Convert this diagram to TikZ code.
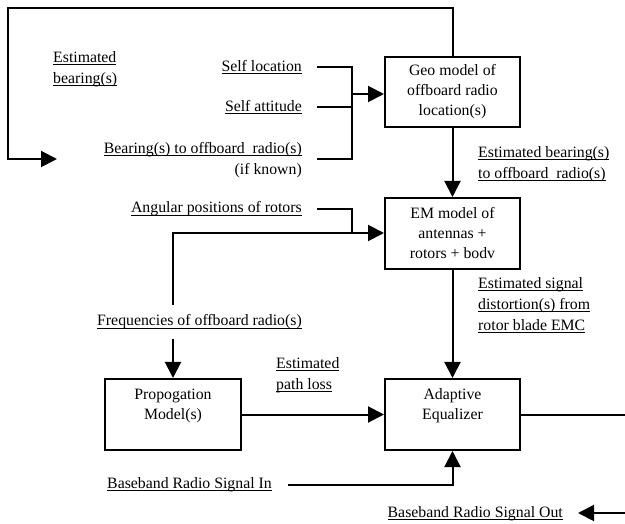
\documentclass[tikz,border=0pt]{standalone}
\usepackage{fontspec}
\setmainfont{Liberation Serif}
\usetikzlibrary{arrows.meta}
% underlined label text at a fixed depth below the baseline
\newcommand\ulin[1]{\setbox0\hbox{#1}\rlap{\rule[-2.6pt]{\wd0}{0.9pt}}\box0}
\begin{document}
\begin{tikzpicture}[x=1pt,y=1pt,
  font=\fontsize{15.8}{20}\selectfont,
  wire/.style={line width=2pt},
  flow/.style={wire,-{Triangle[length=16pt,width=16pt]}},
  block/.style={draw,line width=2pt,minimum width=135pt,inner sep=0pt,align=center},
  lbl/.style={inner sep=0pt,font=\fontsize{15.8}{21}\selectfont}]
\useasboundingbox (0,0) rectangle (625,-524);

% blocks
\node[block,minimum height=70pt] (geo) at (452.5,-92) {Geo model of\\offboard radio\\location(s)};
\node[block,minimum height=71pt] (em) at (452.5,-233.5) {EM model of\\antennas +\\rotors + bodv};
\node[block,minimum height=71pt,minimum width=136pt] (prop) at (173,-414.5) {Propogation\\Model(s)\\\mbox{}};
\node[block,minimum height=71pt] (eq) at (452.5,-414.5) {Adaptive\\Equalizer\\\mbox{}};

% labels
\node[lbl,anchor=west,align=left] (lfb) at (53,-69) {\ulin{Estimated}\\\ulin{bearing(s)}};
\node[lbl,anchor=east] (lsl) at (302,-67) {\ulin{Self location}};
\node[lbl,anchor=east] (lsa) at (302,-107) {\ulin{Self attitude}};
\node[lbl,anchor=east,align=right] (lbr) at (302,-160) {\ulin{Bearing(s) to offboard\ \ radio(s)}\\(if known)};
\node[lbl,anchor=west,align=left] (lgeo) at (478,-164) {\ulin{Estimated bearing(s)}\\\ulin{to offboard\ \ radio(s)}};
\node[lbl,anchor=east] (lang) at (302,-209) {\ulin{Angular positions of rotors}};
\node[lbl,anchor=east] (lfrq) at (302,-322) {\ulin{Frequencies of offboard radio(s)}};
\node[lbl,anchor=west,align=left] (lpl) at (276,-375) {\ulin{Estimated}\\\ulin{path loss}};
\node[lbl,anchor=west,align=left] (lem) at (478,-305) {\ulin{Estimated signal}\\\ulin{distortion(s) from}\\\ulin{rotor blade EMC}};
\node[lbl,anchor=east] (lin) at (272,-485) {\ulin{Baseband Radio Signal In}};
\node[lbl,anchor=east] (lout) at (563,-514) {\ulin{Baseband Radio Signal Out}};

% free ends of the connectors
\coordinate (fbend) at (57,-159);
\coordinate (slA) at (317,-67);
\coordinate (saA) at (317,-107);
\coordinate (brA) at (317,-159);
\coordinate (join) at (352,-94);
\coordinate (angA) at (317,-209);
\coordinate (angB) at (352,-233);
\coordinate (frqUp) at (173,-305);
\coordinate (frqDn) at (173,-339);
\coordinate (inA) at (288,-485);
\coordinate (outR) at (625,-414.5);
\coordinate (outA) at (625,-513);
\coordinate (outB) at (578,-513);

% feedback of the estimated bearings
\draw[flow] (geo.north) -- (geo.north |- 0,-8) -- (8,-8) -- (8,-159) -- (fbend);

% inputs of the geo model
\draw[wire] (slA) -- (slA -| join) -- (brA -| join) -- (brA);
\draw[wire] (saA) -- (saA -| join);
\draw[flow] (join) -- (join -| geo.west);

\draw[flow] (geo.south) -- (em.north);

% inputs of the EM model
\draw[wire] (angA) -- (angA -| angB) -- (angB);
\draw[flow] (frqUp) -- (frqUp |- angB) -- (angB -| em.west);

\draw[flow] (frqDn) -- (prop.north);
\draw[flow] (prop.east) -- (eq.west);
\draw[flow] (em.south) -- (eq.north);
\draw[flow] (inA) -- (inA -| eq.south) -- (eq.south);
\draw[wire] (eq.east) -- (outR);
\draw[flow] (outA) -- (outB);
\end{tikzpicture}
\end{document}
